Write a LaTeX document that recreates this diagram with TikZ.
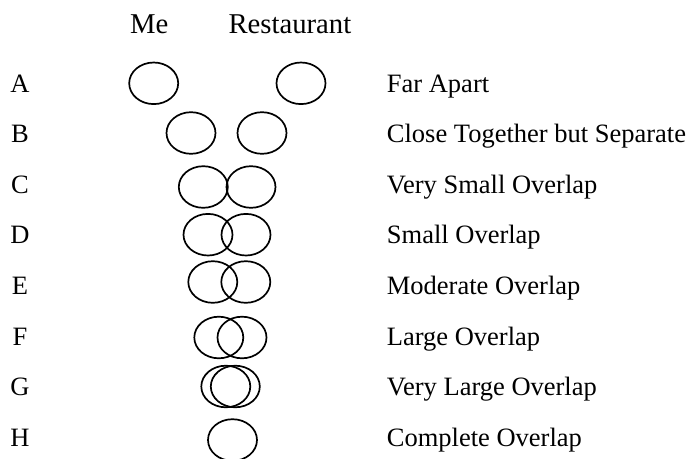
\documentclass[tikz,border=0pt]{standalone}
\usepackage{fontspec}
\setmainfont{Liberation Serif}
\usetikzlibrary{shapes.geometric}

\tikzset{
  lbl/.style={inner sep=0pt, font=\fontsize{26.5}{30}\selectfont},
  heading/.style={inner sep=0pt, anchor=base west, font=\fontsize{28.7}{32}\selectfont},
  rowletter/.style={lbl, anchor=base},
  rowtext/.style={lbl, anchor=base west},
  ring/.style={ellipse, draw=black, line width=1.7pt, inner sep=0pt,
               minimum width=49pt, minimum height=41.6pt}
}

\begin{document}
\begin{tikzpicture}[x=1pt, y=-1pt]
  \useasboundingbox (0,0) rectangle (691,458);
  \clip (0,0) rectangle (691,458);

  % column headings
  \node[heading] (hme)  at (130,33.3)   {Me};
  \node[heading] (hres) at (228.3,33.3) {Restaurant};

  % row letters
  \node[rowletter] (lA) at (20,92)    {A};
  \node[rowletter] (lB) at (20,142.3) {B};
  \node[rowletter] (lC) at (20,193)   {C};
  \node[rowletter] (lD) at (20,243.7) {D};
  \node[rowletter] (lE) at (20,294.5) {E};
  \node[rowletter] (lF) at (20,345)   {F};
  \node[rowletter] (lG) at (20,395.3) {G};
  \node[rowletter] (lH) at (20,446.2) {H};

  % pairs of circles: me (left) and restaurant (right)
  \node[ring] (A1) at (153.7,83.3) {};
  \node[ring] (A2) at (301,83.3)   {};
  \node[ring] (B1) at (191,133)    {};
  \node[ring] (B2) at (262,133)    {};
  \node[ring] (C1) at (203.3,187)  {};
  \node[ring] (C2) at (251,187)    {};
  \node[ring] (D1) at (208,234.7)  {};
  \node[ring] (D2) at (246,234.7)  {};
  \node[ring] (E1) at (212.8,282)  {};
  \node[ring] (E2) at (245.8,282)  {};
  \node[ring] (F1) at (218.8,337.5){};
  \node[ring] (F2) at (242,337.5)  {};
  \node[ring] (G1) at (225.8,386.5){};
  \node[ring] (G2) at (235.3,386.5){};
  \node[ring] (H1) at (232.5,440)  {};

  % descriptions
  \node[rowtext] (tA) at (386.7,92)    {Far Apart};
  \node[rowtext] (tB) at (386.7,142.3) {Close Together but Separate};
  \node[rowtext] (tC) at (386.7,193)   {Very Small Overlap};
  \node[rowtext] (tD) at (386.7,243.7) {Small Overlap};
  \node[rowtext] (tE) at (386.7,294.5) {Moderate Overlap};
  \node[rowtext] (tF) at (386.7,345)   {Large Overlap};
  \node[rowtext] (tG) at (386.7,395.3) {Very Large Overlap};
  \node[rowtext] (tH) at (386.7,446.2) {Complete Overlap};
\end{tikzpicture}
\end{document}
